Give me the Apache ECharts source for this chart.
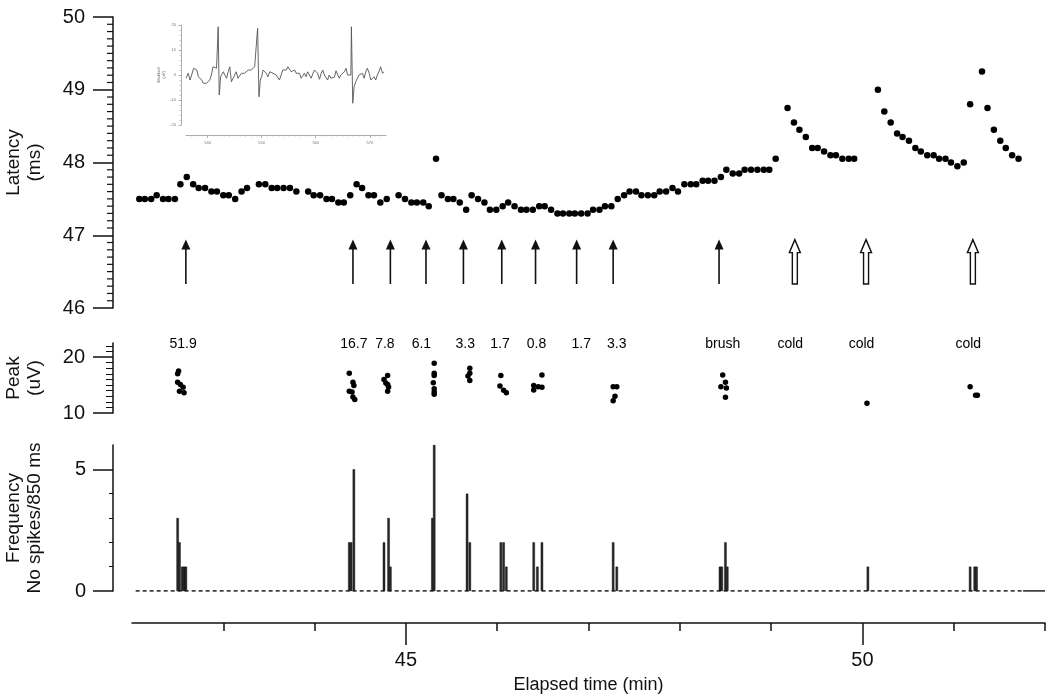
<!DOCTYPE html>
<html>
<head>
<meta charset="utf-8">
<title>Latency / Peak / Frequency vs elapsed time</title>
<script src="https://cdn.jsdelivr.net/npm/echarts@6/dist/echarts.min.js"></script>
<style>
  html, body { margin: 0; padding: 0; background: #fff; }
  #chart { width: 1050px; height: 694px; }
</style>
</head>
<body>
<div id="chart"></div>
<script>
// --- data: latency (ms) vs elapsed time (min) ---
const latTime = [
  42.08, 42.14, 42.21, 42.27, 42.34, 42.40, 42.47, 42.53, 42.60, 42.67, 42.73, 42.80, 42.87, 42.93,
  43.00, 43.06, 43.13, 43.20, 43.26, 43.39, 43.46, 43.53, 43.59, 43.66, 43.73, 43.80, 43.93, 43.99,
  44.06, 44.13, 44.19, 44.26, 44.32, 44.39, 44.46, 44.52, 44.59, 44.65, 44.72, 44.79, 44.92, 44.99,
  45.06, 45.12, 45.19, 45.25, 45.33, 45.39, 45.46, 45.52, 45.59, 45.66, 45.72, 45.79, 45.86, 45.92,
  45.99, 46.06, 46.12, 46.19, 46.26, 46.32, 46.39, 46.46, 46.52, 46.59, 46.66, 46.72, 46.79, 46.85,
  46.92, 46.99, 47.05, 47.12, 47.18, 47.25, 47.32, 47.39, 47.45, 47.52, 47.58, 47.65, 47.72, 47.78,
  47.85, 47.92, 47.98, 48.05, 48.12, 48.18, 48.25, 48.31, 48.38, 48.45, 48.51, 48.58, 48.65, 48.71,
  48.78, 48.85, 48.92, 48.98, 49.05, 49.18, 49.25, 49.31, 49.38, 49.45, 49.51, 49.58, 49.65, 49.71,
  49.78, 49.85, 49.91, 50.17, 50.24, 50.31, 50.38, 50.44, 50.51, 50.58, 50.64, 50.71, 50.78, 50.84,
  50.91, 50.97, 51.04, 51.11, 51.18, 51.31, 51.37, 51.44, 51.51, 51.57, 51.64, 51.71
];
const latValue = [
  47.5, 47.5, 47.5, 47.55, 47.5, 47.5, 47.5, 47.7, 47.8, 47.7, 47.65, 47.65, 47.6, 47.6,
  47.55, 47.55, 47.5, 47.6, 47.65, 47.7, 47.7, 47.65, 47.65, 47.65, 47.65, 47.6, 47.6, 47.55,
  47.55, 47.5, 47.5, 47.45, 47.45, 47.55, 47.7, 47.65, 47.55, 47.55, 47.45, 47.5, 47.55, 47.5,
  47.45, 47.45, 47.45, 47.4, 48.05, 47.55, 47.5, 47.5, 47.45, 47.35, 47.55, 47.5, 47.45, 47.35,
  47.35, 47.4, 47.45, 47.4, 47.35, 47.35, 47.35, 47.4, 47.4, 47.35, 47.3, 47.3, 47.3, 47.3,
  47.3, 47.3, 47.35, 47.35, 47.4, 47.4, 47.5, 47.55, 47.6, 47.6, 47.55, 47.55, 47.55, 47.6,
  47.6, 47.65, 47.6, 47.7, 47.7, 47.7, 47.75, 47.75, 47.75, 47.8, 47.9, 47.85, 47.85, 47.9,
  47.9, 47.9, 47.9, 47.9, 48.05, 48.75, 48.55, 48.45, 48.35, 48.2, 48.2, 48.15, 48.1, 48.1,
  48.05, 48.05, 48.05, 49.0, 48.7, 48.55, 48.4, 48.35, 48.3, 48.2, 48.15, 48.1, 48.1, 48.05,
  48.05, 48.0, 47.95, 48.0, 48.8, 49.25, 48.75, 48.45, 48.3, 48.2, 48.1, 48.05
];

// stimulus arrows (0 = filled arrow, 1 = open arrow for cold)
const arrowTime = [42.59, 44.42, 44.83, 45.22, 45.63, 46.05, 46.42, 46.87, 47.27, 48.43, 49.26, 50.04, 51.21];
const arrowHollow = [0, 0, 0, 0, 0, 0, 0, 0, 0, 0, 1, 1, 1];
const arrowBase = 46.33;
const arrowTip = 46.94;

// --- data: peak (uV) ---
const peakTime = [
  42.51, 42.50, 42.50, 42.53, 42.56, 42.52, 42.57,
  44.38, 44.42, 44.43, 44.38, 44.41, 44.42, 44.44,
  44.80, 44.76, 44.78, 44.80, 44.81, 44.80,
  45.31, 45.31, 45.31, 45.30, 45.31, 45.31, 45.31,
  45.70, 45.70, 45.68, 45.70,
  46.04, 46.03, 46.07, 46.10,
  46.49, 46.40, 46.45, 46.49, 46.40,
  47.27, 47.31, 47.29, 47.27,
  48.47, 48.50, 48.45, 48.51, 48.50,
  50.05,
  51.18, 51.24, 51.26
];
const peakValue = [
  17.5, 17.0, 15.5, 15.1, 14.6, 13.9, 13.6,
  17.1, 15.5, 14.9, 13.9, 13.75, 12.85, 12.4,
  16.7, 16.0, 15.35, 15.1, 14.65, 13.9,
  18.9, 17.1, 16.7, 15.4, 14.35, 13.75, 13.35,
  18.0, 17.1, 16.6, 15.8,
  16.7, 14.8, 14.05, 13.6,
  16.8, 14.9, 14.7, 14.6, 14.1,
  14.7, 14.7, 13.0, 12.2,
  16.8, 15.5, 14.7, 14.45, 12.8,
  11.75,
  14.7, 13.15, 13.15
];

// stimulus annotations above the peak panel
const labelTime = [42.56, 44.43, 44.77, 45.17, 45.65, 46.03, 46.43, 46.92, 47.31, 48.47, 49.21, 49.99, 51.16];
const labelText = ['51.9', '16.7', '7.8', '6.1', '3.3', '1.7', '0.8', '1.7', '3.3', 'brush', 'cold', 'cold', 'cold'];
const labelLevel = 22.25;

// --- data: spikes per 850 ms bin ---
const freqTime = [
  42.50, 42.52, 42.55, 42.57, 42.59,
  44.38, 44.40, 44.43,
  44.76, 44.81, 44.83,
  45.29, 45.31,
  45.67, 45.70,
  46.04, 46.07, 46.10,
  46.40, 46.44, 46.49,
  47.27, 47.31,
  48.44, 48.46, 48.50, 48.52,
  50.06,
  51.18, 51.23, 51.25
];
const freqCount = [
  3, 2, 1, 1, 1,
  2, 2, 5,
  2, 3, 1,
  3, 6,
  4, 2,
  2, 2, 1,
  2, 1, 2,
  2, 1,
  1, 1, 2, 1,
  1,
  1, 1, 1
];
const baseDashed = [42.04, 51.76];
const baseSolid = [51.76, 52.0];

// axis ticks
const xMinorTicks = [43, 44, 45, 46, 47, 48, 49, 50, 51, 52];
const xMajorTicks = [45, 50];
const latMajorTicks = [46, 47, 48, 49, 50];

// --- inset: raw recording trace ---
const insetTime = [
  536.0, 536.4, 536.75, 537.1, 537.4, 537.7, 538.0, 538.3, 538.6, 538.9, 539.2, 539.5, 539.8, 540.1,
  540.4, 540.7, 541.0, 541.35, 541.65, 541.95, 542.15, 542.4, 542.65, 542.9, 543.2, 543.5, 543.8, 544.1,
  544.4, 544.7, 545.0, 545.3, 545.6, 545.95, 546.25, 546.55, 546.85, 547.2, 547.5, 547.8, 548.1, 548.4,
  548.7, 549.0, 549.25, 549.5, 549.75, 550.0, 550.25, 550.55, 550.85, 551.15, 551.5, 551.8, 552.1, 552.4,
  552.7, 553.0, 553.3, 553.6, 553.9, 554.2, 554.55, 554.85, 555.15, 555.45, 555.75, 556.1, 556.4, 556.7,
  557.0, 557.3, 557.6, 557.9, 558.2, 558.5, 558.85, 559.15, 559.45, 559.75, 560.05, 560.35, 560.7, 561.0,
  561.3, 561.6, 561.9, 562.2, 562.5, 562.8, 563.15, 563.45, 563.75, 564.05, 564.35, 564.65, 564.95, 565.3,
  565.6, 565.9, 566.2, 566.5, 566.6, 566.85, 567.1, 567.4, 567.7, 568.0, 568.35, 568.65, 568.95, 569.25,
  569.55, 569.9, 570.2, 570.5, 570.8, 571.1, 571.4, 571.7, 572.0, 572.35, 572.65
];
const insetValue = [
  -1.3, 0.7, -2.0, 0.4, 2.7, 3.3, 2.0, -0.7, -1.3, -2.0, -3.3, -2.7, -3.3, -2.7,
  -2.0, 0.0, 3.3, 3.3, 2.7, 19.3, -8.0, -0.7, 0.0, 1.3, 2.0, -1.3, 1.3, 3.3,
  -2.7, -3.3, 0.0, 1.3, -1.3, -2.0, 0.7, 1.3, 0.7, 1.3, 2.0, 1.3, 2.0, 2.7,
  3.3, 2.7, 18.7, -8.7, -2.0, -0.7, 2.0, 2.7, 0.7, -0.7, 1.3, 2.0, 0.7, 1.3,
  0.0, -0.7, -2.0, 0.0, 2.0, 1.3, 2.0, 3.3, 2.7, 1.3, 1.7, 2.0, 0.7, 1.3,
  0.7, -1.3, -2.0, 0.7, -0.7, 1.3, 0.0, -1.3, 0.4, 2.0, 1.3, 0.7, -1.7, 0.7,
  2.0, 0.0, 0.4, -2.0, 0.0, -1.3, -2.0, -0.9, 1.7, 1.3, -1.3, 0.0, -0.4, 1.3,
  2.7, 0.0, -0.7, 0.0, 19.3, -11.3, -4.7, -2.7, -2.0, 0.0, -0.7, 0.7, -1.3, 1.3,
  2.7, 0.7, -2.0, -2.7, -0.7, -2.0, 0.0, 1.3, 3.3, 0.7, 1.3
];
const insetXTicks = [540, 550, 560, 570];

// ---------------------------------------------------------------
const FONT = '"Liberation Sans", Arial, Helvetica, sans-serif';
const INK = '#111';
const AXIS_OFFSET = 19;

const zip = (xs, ys) => xs.map((x, i) => [x, ys[i]]);

// 0.1 ms tick positions between the labelled latency ticks
const latFineTicks = [];
for (let k = 1; k < 40; k++) {
  if (k % 10 !== 0) latFineTicks.push((460 + k) / 10);
}

const chart = echarts.init(document.getElementById('chart'), null, { renderer: 'canvas' });

// shared horizontal scale, only drawn under the bottom panel
const hiddenX = (gridIndex) => ({
  type: 'value', gridIndex, min: 42, max: 52, show: false, splitLine: { show: false }
});

// left axis common style
const leftAxis = (extra) => Object.assign({
  type: 'value',
  position: 'left',
  offset: AXIS_OFFSET,
  nameLocation: 'middle',
  nameGap: 68,
  nameTextStyle: { fontFamily: FONT, fontSize: 19, lineHeight: 21, color: INK },
  axisLine: { show: true, onZero: false, lineStyle: { color: INK, width: 1.5 } },
  axisTick: { show: true, length: 20, lineStyle: { color: INK, width: 1.5 } },
  minorTick: { show: true, length: 6, lineStyle: { color: INK, width: 1 } },
  axisLabel: { fontFamily: FONT, fontSize: 20, color: INK, margin: 28 },
  splitLine: { show: false }
}, extra);

// arrows drawn in data coordinates
const renderArrow = (params, api) => {
  const base = api.coord([api.value(0), api.value(1)]);
  const tip = api.coord([api.value(0), api.value(2)]);
  const x = base[0];
  if (api.value(3) === 1) {
    const hy = tip[1] + 13;
    return {
      type: 'polygon',
      shape: { points: [[x, tip[1]], [x - 5.5, hy], [x - 2.5, hy], [x - 2.5, base[1]],
                        [x + 2.5, base[1]], [x + 2.5, hy], [x + 5.5, hy]] },
      style: { fill: '#fff', stroke: INK, lineWidth: 1.4 }
    };
  }
  return {
    type: 'group',
    children: [
      { type: 'line', shape: { x1: x, y1: base[1], x2: x, y2: tip[1] + 6 },
        style: { stroke: INK, lineWidth: 1.6 } },
      { type: 'polygon', shape: { points: [[x, tip[1]], [x - 4.5, tip[1] + 10], [x + 4.5, tip[1] + 10]] },
        style: { fill: INK } }
    ]
  };
};

chart.setOption({
  animation: false,
  backgroundColor: '#fff',
  textStyle: { fontFamily: FONT },
  grid: [
    { left: 132, right: 5, top: 17, height: 291, outerBoundsMode: 'none' },   // latency
    { left: 132, right: 5, top: 343, height: 70, outerBoundsMode: 'none' },   // peak
    { left: 132, right: 5, top: 445, height: 146, outerBoundsMode: 'none' },  // frequency
    { left: 186, top: 25, width: 200, height: 100, outerBoundsMode: 'none' }  // inset
  ],
  xAxis: [
    hiddenX(0),
    hiddenX(1),
    {
      type: 'value', gridIndex: 2, min: 42, max: 52, position: 'bottom', offset: 32,
      axisLine: { show: true, onZero: false, lineStyle: { color: INK, width: 1.5 } },
      axisTick: { show: true, length: 8, customValues: xMinorTicks, lineStyle: { color: INK, width: 1.5 } },
      axisLabel: { show: false },
      splitLine: { show: false }
    },
    {
      type: 'value', gridIndex: 2, min: 42, max: 52, position: 'bottom', offset: 32,
      name: 'Elapsed time (min)', nameLocation: 'middle', nameGap: 53,
      nameTextStyle: { fontFamily: FONT, fontSize: 18, color: INK },
      axisLine: { show: false, onZero: false },
      axisTick: { show: true, length: 22, customValues: xMajorTicks, lineStyle: { color: INK, width: 1.5 } },
      axisLabel: { show: true, customValues: xMajorTicks, fontFamily: FONT, fontSize: 20, color: INK, margin: 27 },
      splitLine: { show: false }
    },
    {
      type: 'value', gridIndex: 3, min: 536, max: 573, position: 'bottom', offset: 10,
      axisLine: { show: true, onZero: false, lineStyle: { color: '#999', width: 0.8 } },
      axisTick: { show: true, length: 3, customValues: insetXTicks, lineStyle: { color: '#999', width: 0.8 } },
      minorTick: { show: true, splitNumber: 10, length: 1.5, lineStyle: { color: '#aaa', width: 0.6 } },
      axisLabel: { show: true, customValues: insetXTicks, fontSize: 4, color: '#777', margin: 6 },
      splitLine: { show: false }
    }
  ],
  yAxis: [
    leftAxis({ gridIndex: 0, min: 46, max: 50, interval: 1, name: 'Latency\n(ms)',
               axisTick: { show: true, length: 20, customValues: latMajorTicks, lineStyle: { color: INK, width: 1.5 } },
               axisLabel: { fontFamily: FONT, fontSize: 20, color: INK, margin: 28, customValues: latMajorTicks },
               minorTick: { show: false } }),
    leftAxis({ gridIndex: 1, min: 10, max: 22.5, interval: 10, name: 'Peak\n(uV)',
               axisTick: { show: true, length: 20, customValues: [10, 20], lineStyle: { color: INK, width: 1.5 } },
               axisLabel: { fontFamily: FONT, fontSize: 20, color: INK, margin: 28, customValues: [10, 20] },
               minorTick: { show: true, splitNumber: 10, length: 7, lineStyle: { color: INK, width: 1 } } }),
    leftAxis({ gridIndex: 2, min: 0, max: 6, interval: 5, name: 'Frequency\nNo spikes/850 ms',
               axisTick: { show: true, length: 20, customValues: [0, 5], lineStyle: { color: INK, width: 1.5 } },
               axisLabel: { fontFamily: FONT, fontSize: 20, color: INK, margin: 27, customValues: [0, 5] },
               minorTick: { show: true, splitNumber: 5, length: 4, lineStyle: { color: INK, width: 1 } } }),
    {
      type: 'value', gridIndex: 3, min: -20, max: 20, interval: 10, position: 'left', offset: 5,
      name: 'Modified\n(µV)', nameLocation: 'middle', nameGap: 14,
      nameTextStyle: { fontSize: 4, lineHeight: 5, color: '#666' },
      axisLine: { show: true, onZero: false, lineStyle: { color: '#999', width: 0.8 } },
      axisTick: { show: true, length: 2.5, lineStyle: { color: '#999', width: 0.8 } },
      minorTick: { show: true, splitNumber: 5, length: 1.5, lineStyle: { color: '#aaa', width: 0.6 } },
      axisLabel: { fontSize: 4, color: '#777', margin: 5 },
      splitLine: { show: false }
    }
  ],
  series: [
    {
      name: 'latency', type: 'scatter', xAxisIndex: 0, yAxisIndex: 0,
      data: zip(latTime, latValue), symbolSize: 6.5,
      itemStyle: { color: '#000', opacity: 1 }
    },
    {
      // short 0.1 ms ticks: thin rectangles at the grid edge, shifted onto the axis line
      name: 'latency fine ticks', type: 'scatter', xAxisIndex: 0, yAxisIndex: 0,
      data: latFineTicks.map((v) => [42, v]),
      symbol: 'rect', symbolSize: [6, 1.2], symbolOffset: [-AXIS_OFFSET - 3, 0],
      clip: false, silent: true,
      itemStyle: { color: INK, opacity: 1 }
    },
    {
      name: 'stimulus', type: 'custom', xAxisIndex: 0, yAxisIndex: 0,
      data: arrowTime.map((t, i) => [t, arrowBase, arrowTip, arrowHollow[i]]),
      encode: { x: 0, y: [1, 2] },
      renderItem: renderArrow
    },
    {
      name: 'peak', type: 'scatter', xAxisIndex: 1, yAxisIndex: 1,
      data: zip(peakTime, peakValue), symbolSize: 5.5,
      itemStyle: { color: '#000', opacity: 1 }
    },
    {
      name: 'stimulus label', type: 'scatter', xAxisIndex: 1, yAxisIndex: 1,
      data: labelTime.map((t) => [t, labelLevel]), symbolSize: 1,
      itemStyle: { color: 'rgba(0,0,0,0)', opacity: 1 },
      label: {
        show: true, position: 'inside', color: '#000', opacity: 1, fontFamily: FONT, fontSize: 14,
        formatter: (p) => labelText[p.dataIndex]
      }
    },
    {
      name: 'baseline', type: 'line', xAxisIndex: 2, yAxisIndex: 2,
      data: baseDashed.map((t) => [t, 0]), showSymbol: false, z: 1,
      lineStyle: { color: '#000', width: 1.3, type: [4, 3] }
    },
    {
      name: 'baseline end', type: 'line', xAxisIndex: 2, yAxisIndex: 2,
      data: baseSolid.map((t) => [t, 0]), showSymbol: false, z: 1,
      lineStyle: { color: '#000', width: 1.3 }
    },
    {
      name: 'frequency', type: 'bar', xAxisIndex: 2, yAxisIndex: 2,
      data: zip(freqTime, freqCount), barWidth: 2.4, z: 3,
      itemStyle: { color: '#2a2a2a', borderColor: '#000', borderWidth: 0.4 }
    },
    {
      name: 'trace', type: 'line', xAxisIndex: 4, yAxisIndex: 3,
      data: zip(insetTime, insetValue), showSymbol: false,
      lineStyle: { color: '#555', width: 0.9 }
    }
  ]
});
</script>
</body>
</html>
